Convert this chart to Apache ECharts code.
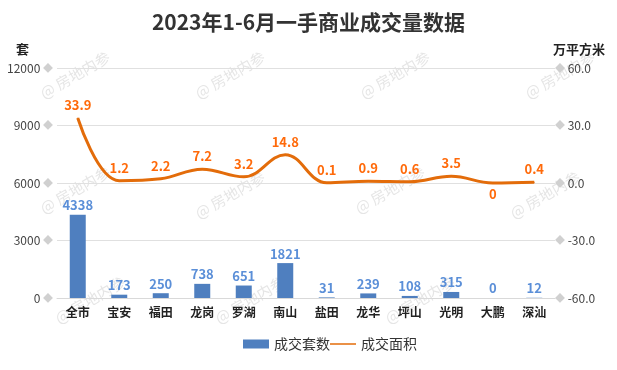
<!DOCTYPE html>
<html><head><meta charset="utf-8">
<script src="https://cdn.jsdelivr.net/npm/echarts@6/dist/echarts.min.js"></script>
<style>html,body{margin:0;padding:0;background:#fff}#c{width:617px;height:370px}</style>
</head><body><div id="c"></div>
<script>
const categories = ['全市','宝安','福田','龙岗','罗湖','南山','盐田','龙华','坪山','光明','大鹏','深汕'];
const units = [4338,173,250,738,651,1821,31,239,108,315,0,12];
const area = [33.9,1.2,2.2,7.2,3.2,14.8,0.1,0.9,0.6,3.5,0,0.4];
const leftTicks = [0,3000,6000,9000,12000];
const rightTicks = [-60,-30,0,30,60];

const font = '"Microsoft YaHei","Noto Sans CJK SC",sans-serif';
const chart = echarts.init(document.getElementById('c'));
const wm = [];
[[75,75],[230,75],[395,75],[560,75],[75,190],[230,195],[390,190],[545,195],[90,300],[250,300],[420,300]].forEach(p=>{
  wm.push({type:'text',x:p[0],y:p[1],rotation:Math.PI/6,style:{text:'@ 房地内参',fill:'rgba(180,180,180,0.35)',font:'15px '+font,align:'center',verticalAlign:'middle'},z:0});
});
chart.setOption({
  animation:false,
  textStyle:{fontFamily:font},
  title:{text:'2023年1-6月一手商业成交量数据',left:'center',top:7,textStyle:{fontSize:21,fontWeight:'bold',color:'#333',fontFamily:font}},
  graphic:wm,
  legend:{bottom:14,left:238,itemGap:0,itemWidth:26,itemHeight:9,textStyle:{fontSize:14,color:'#333'},
    data:[{name:'成交套数',icon:'rect'},{name:'成交面积',icon:'path://M0,4L26,4L26,5.5L0,5.5Z'}]},
  grid:{left:57,right:62,top:68,bottom:72},
  xAxis:{type:'category',data:categories,axisTick:{show:false},axisLine:{lineStyle:{color:'#d9d9d9'}},
    axisLabel:{color:'#222',fontSize:12,fontWeight:'bold',margin:8}},
  yAxis:[
    {type:'value',min:leftTicks[0],max:leftTicks[leftTicks.length-1],interval:3000,name:'套',
     nameLocation:'end',nameGap:12,nameTextStyle:{fontSize:13,fontWeight:'bold',color:'#222',align:'right',padding:[0,28,0,0]},
     axisLine:{show:false},axisTick:{show:false},
     splitLine:{lineStyle:{color:'#e0e0e0'}},
     axisLabel:{color:'#444',fontSize:12,margin:4,formatter:v=>v+' {d|◆}',rich:{d:{color:'#d0d0d0',fontSize:10}}}},
    {type:'value',min:rightTicks[0],max:rightTicks[rightTicks.length-1],interval:30,name:'万平方米',
     nameLocation:'end',nameGap:12,nameTextStyle:{fontSize:13,fontWeight:'bold',color:'#222',align:'left',padding:[0,0,0,-2]},
     axisLine:{show:false},axisTick:{show:false},splitLine:{show:false},
     axisLabel:{color:'#444',fontSize:12,margin:0,formatter:v=>'{d|◆} '+v.toFixed(1),rich:{d:{color:'#d0d0d0',fontSize:10}}}}
  ],
  series:[
    {name:'成交套数',type:'bar',data:units,barWidth:16,itemStyle:{color:'#4f7fbf'},
     label:{show:true,position:'top',color:'#5b8fd8',fontSize:13,fontWeight:'bold',distance:3}},
    {name:'成交面积',type:'line',yAxisIndex:1,smooth:0.4,data:area.map((v,i)=>i===10?{value:v,label:{position:'bottom',distance:4}}:v),
     symbol:'circle',symbolSize:1,showSymbol:true,lineStyle:{color:'#e36c0a',width:3},itemStyle:{color:'#e36c0a'},
     label:{show:true,position:'top',color:'#ff6a0a',fontSize:13,fontWeight:'bold',distance:6}}
  ]
});
</script></body></html>
